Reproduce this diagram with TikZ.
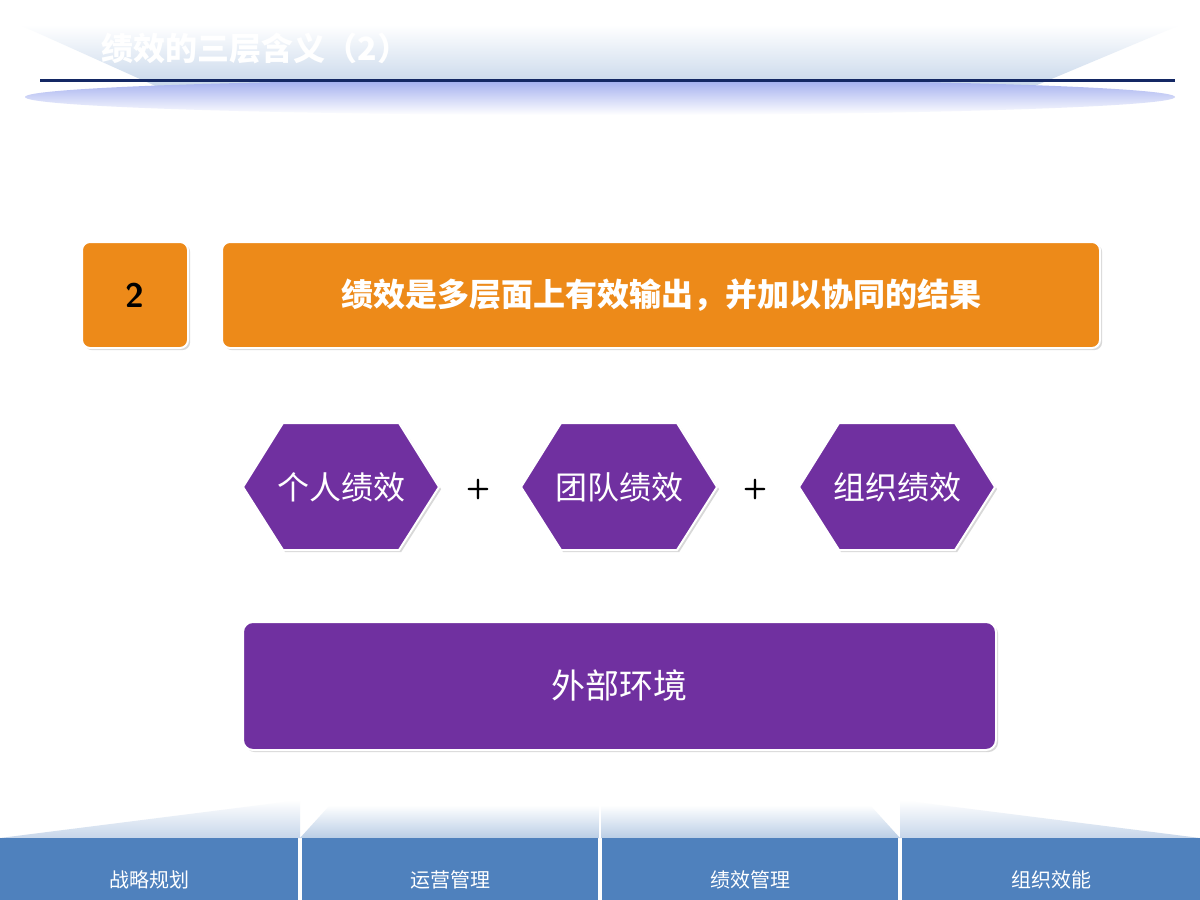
\documentclass[tikz,border=0pt]{standalone}
\usepackage{fontspec}
\newfontfamily\cjk{Noto Sans CJK SC}
\usetikzlibrary{shapes.geometric,shadows}
\definecolor{org}{HTML}{ED8A19}
\definecolor{pur}{HTML}{7030A0}
\definecolor{blu}{HTML}{4F81BD}
\definecolor{lblu}{HTML}{C6D6EA}
\begin{document}
\begin{tikzpicture}[x=1pt,y=-1pt,
  obox/.style={fill=org,draw=white,line width=2pt,rounded corners=8pt,drop shadow={opacity=0.3}},
  hexa/.style={fill=pur,draw=white,line width=2pt,drop shadow={opacity=0.3}},
  btxt/.style={font=\cjk\fontsize{20}{24}\selectfont,text=white}]
\useasboundingbox (0,0) rectangle (1200,900);
\fill[white] (0,0) rectangle (1200,900);
% header
\shade[top color=white,bottom color=lblu] (20,25) -- (1180,25) -- (1030,88) -- (160,88) -- cycle;
\shade[top color=lblu!80!blue,bottom color=white] (600,97) ellipse (575 and 18);
\draw[line width=3pt,color={rgb,255:red,20;green,40;blue,100}] (40,80) -- (1175,80);
\node[anchor=west,text=white,font=\cjk\bfseries\fontsize{32}{36}\selectfont] (title) at (98,48) {绩效的三层含义（2）};
% orange row
\node[obox,minimum width=106,minimum height=106] (num) at (135,295) {};
\node[font=\sffamily\bfseries\fontsize{34}{38}\selectfont] at (num) {2};
\node[obox,minimum width=878,minimum height=106] (bar) at (661,295) {};
\node[text=white,font=\cjk\bfseries\fontsize{32}{36}\selectfont] at (bar) {绩效是多层面上有效输出，并加以协同的结果};
% hexagons
\foreach \n/\cx/\t in {h1/341/个人绩效,h2/619/团队绩效,h3/897/组织绩效}{
  \draw[hexa] (\cx-98,487) -- (\cx-58,423) -- (\cx+58,423) -- (\cx+98,487) -- (\cx+58,550) -- (\cx-58,550) -- cycle;
  \node[text=white,font=\cjk\fontsize{32}{36}\selectfont] (\n) at (\cx,487) {\t};
}
\node[font=\sffamily\bfseries\fontsize{28}{30}\selectfont] (p1) at (478,489) {+};
\node[font=\sffamily\bfseries\fontsize{28}{30}\selectfont] (p2) at (755,489) {+};
% env
\node[fill=pur,draw=white,line width=2pt,rounded corners=10pt,minimum width=753,minimum height=128,drop shadow={opacity=0.3},text=white,font=\cjk\fontsize{34}{38}\selectfont] (env) at (619.5,686) {外部环境};
% bottom
\shade[top color=white,bottom color=lblu] (0,838) -- (300,800) -- (300,838) -- cycle;
\shade[top color=white,bottom color=lblu!90!blu] (300,838) -- (330,805) -- (600,805) -- (600,838) -- cycle;
\shade[top color=white,bottom color=lblu!90!blu] (600,838) -- (600,805) -- (870,805) -- (900,838) -- cycle;
\shade[top color=white,bottom color=lblu] (900,838) -- (900,800) -- (1200,838) -- cycle;
\draw[white,line width=2pt] (600,800) -- (600,838);
\foreach \n/\a/\b/\t in {s1/0/298/战略规划,s2/302/598/运营管理,s3/602/898/绩效管理,s4/902/1200/组织效能}{
  \fill[blu] (\a,838) rectangle (\b,900);
  \node[btxt] (\n) at ({(\a+\b)/2},880) {\t};
}
\end{tikzpicture}
\end{document}
